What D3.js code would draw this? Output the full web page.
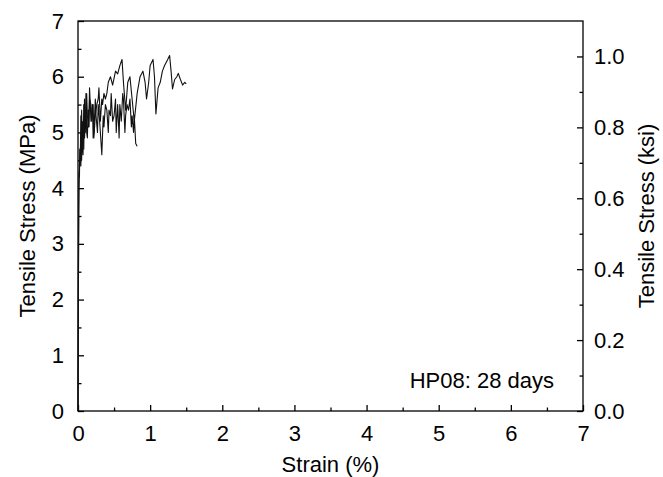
<!DOCTYPE html>
<html><head><meta charset="utf-8">
<script src="https://cdn.jsdelivr.net/npm/d3@7"></script>
<style>html,body{margin:0;padding:0;background:#fff;}svg{display:block;}</style>
</head><body>
<svg id="c" width="663" height="477"></svg>
<script>
const xTicks = [0,1,2,3,4,5,6,7];
const yTicks = [0,1,2,3,4,5,6,7];
const ksiTicks = [0.0,0.2,0.4,0.6,0.8,1.0];
const annotation = "HP08: 28 days";
// Specimen curve 1 (shorter)
const strainA = [0,0.005,0.01,0.015,0.02,0.025,0.03,0.04,0.05,0.06,0.07,0.08,0.09,0.10,0.11,0.12,0.13,0.14,0.15,0.16,0.18,0.20,0.21,0.22,0.24,0.25,0.27,0.28,0.30,0.32,0.33,0.35,0.36,0.38,0.40,0.42,0.43,0.45,0.46,0.48,0.50,0.52,0.53,0.55,0.57,0.58,0.60,0.62,0.63,0.65,0.66,0.68,0.70,0.72,0.74,0.75,0.77,0.78,0.80,0.82];
const stressA = [0,2.0,3.6,4.3,4.2,4.7,4.4,5.3,4.5,5.0,4.6,5.5,4.9,5.1,5.7,5.0,4.9,5.4,5.1,5.8,5.2,5.5,4.9,5.0,5.6,5.3,5.0,5.5,5.2,4.8,4.6,5.3,5.1,5.5,5.4,5.0,5.4,5.3,5.7,5.2,5.3,5.6,5.0,5.5,4.9,5.5,5.2,5.7,5.6,5.0,5.3,5.5,5.4,5.6,5.1,5.3,5.0,5.3,4.8,4.75];
// Specimen curve 2 (longer)
const strainB = [0,0.004,0.008,0.012,0.02,0.03,0.04,0.05,0.06,0.07,0.08,0.09,0.10,0.11,0.12,0.13,0.15,0.16,0.18,0.19,0.21,0.22,0.24,0.26,0.28,0.29,0.31,0.33,0.34,0.36,0.38,0.40,0.42,0.45,0.48,0.52,0.55,0.58,0.61,0.63,0.66,0.69,0.72,0.75,0.78,0.82,0.86,0.90,0.93,0.95,0.98,1.0,1.04,1.06,1.08,1.11,1.14,1.17,1.2,1.24,1.27,1.29,1.31,1.34,1.37,1.39,1.42,1.45,1.48,1.5];
const stressB = [0,1.5,3.0,4.0,4.4,4.7,4.4,5.4,4.8,5.2,4.7,5.6,5.0,5.2,5.7,5.3,5.1,5.6,5.5,5.2,5.5,4.9,5.3,5.5,5.6,5.8,5.2,5.6,5.5,5.7,5.6,5.7,5.9,6.0,5.85,6.1,6.05,6.2,6.31,5.9,5.4,5.9,6.0,5.6,5.2,5.7,6.0,6.1,5.9,5.6,5.9,6.2,6.31,6.0,5.33,5.8,5.9,6.1,6.2,6.3,6.38,6.1,5.78,5.95,6.0,6.06,5.95,5.85,5.9,5.87];

const svg = d3.select("#c");
const L=78, R=583, T=21, B=411;
const x = d3.scaleLinear().domain([0,7]).range([L,R]);
const y = d3.scaleLinear().domain([0,7]).range([B,T]);
const yk = d3.scaleLinear().domain([0,1.1]).range([B,T]);
const font = "Liberation Sans, Arial, sans-serif";
const fs = 22;

svg.append("rect").attr("x",L).attr("y",T).attr("width",R-L).attr("height",B-T)
  .attr("fill","none").attr("stroke","#000").attr("stroke-width",1.3);

function styleAxis(g){
  g.select(".domain").remove();
  g.selectAll("line").attr("stroke","#000").attr("stroke-width",1.3);
  g.selectAll("text").attr("font-family",font).attr("font-size",fs).attr("fill","#000");
}
const gx = svg.append("g").attr("transform",`translate(0,${B})`)
  .call(d3.axisBottom(x).tickValues(xTicks).tickFormat(d3.format("d")).tickSize(-6).tickPadding(14));
styleAxis(gx);
svg.append("g").attr("transform",`translate(0,${B})`)
  .call(d3.axisBottom(x).tickValues(d3.range(0.5,7,1)).tickFormat("").tickSize(-3.5)).call(styleAxis);
const gy = svg.append("g").attr("transform",`translate(${L},0)`)
  .call(d3.axisLeft(y).tickValues(yTicks).tickFormat(d3.format("d")).tickSize(-6).tickPadding(14));
styleAxis(gy);
svg.append("g").attr("transform",`translate(${L},0)`)
  .call(d3.axisLeft(y).tickValues(d3.range(0.5,7,1)).tickFormat("").tickSize(-3.5)).call(styleAxis);
const gr = svg.append("g").attr("transform",`translate(${R},0)`)
  .call(d3.axisRight(yk).tickValues(ksiTicks).tickFormat(d3.format(".1f")).tickSize(-6).tickPadding(11));
styleAxis(gr);
svg.append("g").attr("transform",`translate(${R},0)`)
  .call(d3.axisRight(yk).tickValues([0.1,0.3,0.5,0.7,0.9]).tickFormat("").tickSize(-3.5)).call(styleAxis);

const line = d3.line().x(d=>x(d[0])).y(d=>y(d[1]));
[[strainA,stressA],[strainB,stressB]].forEach(([sx,sy])=>{
  svg.append("path").datum(sx.map((v,i)=>[v,sy[i]]))
    .attr("d",line).attr("fill","none").attr("stroke","#111").attr("stroke-width",1.1)
    .attr("stroke-linejoin","round");
});

svg.append("text").attr("x",(L+R)/2).attr("y",472).attr("text-anchor","middle")
  .attr("font-family",font).attr("font-size",fs).text("Strain (%)");
svg.append("text").attr("transform",`translate(35,${(T+B)/2}) rotate(-90)`).attr("text-anchor","middle")
  .attr("font-family",font).attr("font-size",fs).text("Tensile Stress (MPa)");
svg.append("text").attr("transform",`translate(654,${(T+B)/2}) rotate(-90)`).attr("text-anchor","middle")
  .attr("font-family",font).attr("font-size",fs).text("Tensile Stress (ksi)");
svg.append("text").attr("x",554).attr("y",388).attr("text-anchor","end")
  .attr("font-family",font).attr("font-size",fs).text(annotation);
</script>
</body></html>
